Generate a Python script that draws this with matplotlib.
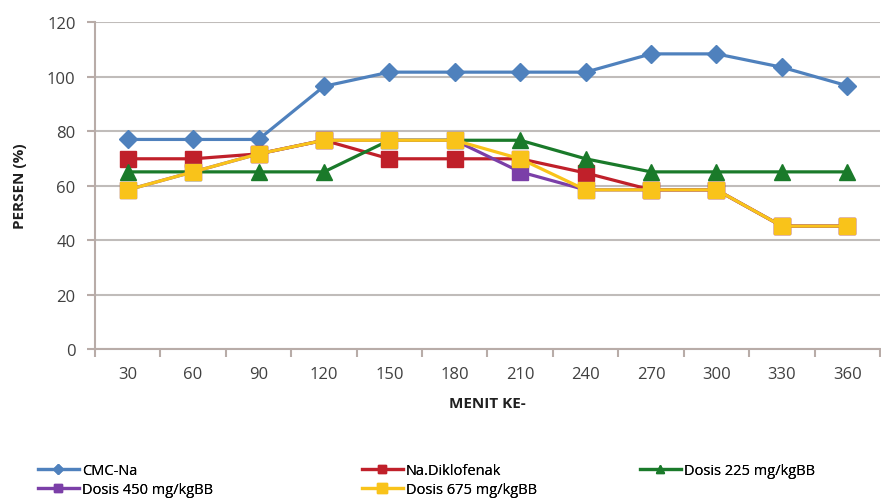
import matplotlib.pyplot as plt
import numpy as np

plt.rcParams['font.family'] = ['Open Sans', 'DejaVu Sans']

menit = [30, 60, 90, 120, 150, 180, 210, 240, 270, 300, 330, 360]
cmc_na = [76.9, 76.9, 76.9, 96.4, 101.6, 101.6, 101.6, 101.6, 108.3, 108.3, 103.4, 96.6]
diklofenak = [69.8, 69.8, 71.6, 76.6, 69.8, 69.8, 69.8, 64.6, 58.4, 58.4, 45.1, 45.1]
dosis_225 = [65.0, 65.0, 65.0, 65.0, 76.6, 76.6, 76.6, 69.8, 65.0, 65.0, 65.0, 65.0]
dosis_450 = [58.4, 65.0, 71.6, 76.6, 76.6, 76.6, 65.0, 58.4, 58.4, 58.4, 45.1, 45.1]
dosis_675 = [58.4, 65.0, 71.6, 76.6, 76.6, 76.6, 69.8, 58.4, 58.4, 58.4, 45.1, 45.1]

fig = plt.figure(figsize=(8.81, 5.02), dpi=100)
ax = fig.add_axes([95/881, 1 - 350/502, (880 - 95)/881, (350 - 23)/502])

x = np.arange(len(menit))
l1, = ax.plot(x, cmc_na, color='#4f81bd', marker='D', ms=9, lw=2.3, label='CMC-Na', zorder=3)
l2, = ax.plot(x, diklofenak, color='#c0202a', marker='s', ms=11, lw=2.3, label='Na.Diklofenak', zorder=3)
l3, = ax.plot(x, dosis_225, color='#1a7a2a', marker='^', ms=11, lw=2.3, label='Dosis 225 mg/kgBB', zorder=3)
l4, = ax.plot(x, dosis_450, color='#7b3fa8', marker='s', ms=11, lw=2.3, label='Dosis 450 mg/kgBB', zorder=3)
l5, = ax.plot(x, dosis_675, color='#f9c31a', marker='s', ms=12, lw=2.3, label='Dosis 675 mg/kgBB', zorder=4)

ax.set_xlim(-0.5, len(menit) - 0.5)
ax.set_ylim(0, 120)
ax.set_yticks(np.arange(0, 121, 20))
ax.set_xticks(x)
ax.set_xticklabels([str(m) for m in menit])
ax.set_xticks(np.arange(-0.5, len(menit), 1), minor=True)
ax.tick_params(axis='x', which='major', length=0, pad=12, labelsize=12, colors='#404040')
ax.tick_params(axis='x', which='minor', length=6, width=1.5, color='#b8aca8')
ax.tick_params(axis='y', length=6, width=1.5, color='#b8aca8', labelsize=12, labelcolor='#404040', pad=8)
ax.grid(axis='y', color='#c0bcba', lw=1.5)
ax.set_axisbelow(True)
for s in ['top', 'right']:
    ax.spines[s].set_visible(False)
for s in ['left', 'bottom']:
    ax.spines[s].set_color('#b8aca8')
    ax.spines[s].set_linewidth(1.5)

ax.set_ylabel('PERSEN (%)', fontsize=11, fontweight='bold', color='#202020', labelpad=14)
ax.set_xlabel('MENIT KE-', fontsize=11, fontweight='bold', color='#202020', labelpad=10)

# legend in three columns, each placed by hand
cols = [([l1, l4], 38), ([l2, l5], 362), ([l3], 640)]
for hs, px in cols:
    leg = fig.legend(hs, [h.get_label() for h in hs], loc='upper left',
                     bbox_to_anchor=(px/881, 1 - 464/502), frameon=False, borderpad=0,
                     borderaxespad=0, fontsize=10.5, markerscale=0.55, handlelength=2.8,
                     handletextpad=0.2, labelspacing=0.25)
    fig.add_artist(leg)

fig.savefig('out.png', dpi=100)
